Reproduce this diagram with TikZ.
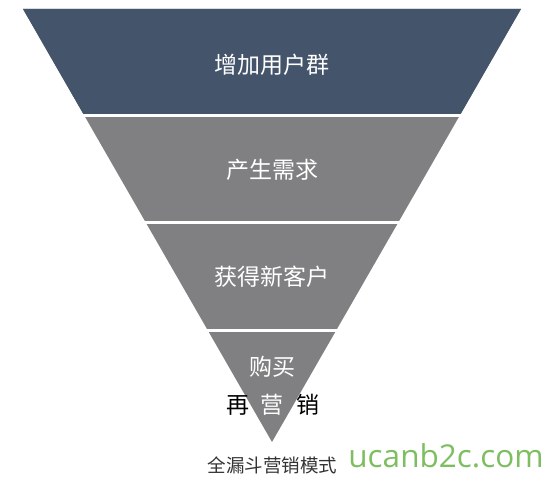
\documentclass[tikz,border=0pt]{standalone}
\usepackage{fontspec}
\newfontfamily\cjk{Noto Sans CJK SC}
\newfontfamily\webfont{Open Sans}
\usepackage{tikz}
\usetikzlibrary{calc}
\definecolor{funnelblue}{RGB}{68, 84, 106}
\definecolor{funnelgray}{RGB}{128, 127, 129}
\definecolor{captiongray}{RGB}{51, 51, 51}
\definecolor{markgreen}{RGB}{124, 190, 96}

\begin{document}
\begin{tikzpicture}[x=1pt, y=-1pt,
    gap/.style={white, line width=3pt, shorten <=-4pt, shorten >=-4pt},
    bandtext/.style={font=\cjk\fontsize{23}{23}\selectfont, text=white, inner sep=0pt},
    outtext/.style={font=\cjk\fontsize{23}{23}\selectfont, text=black, inner sep=0pt},
    caption/.style={font=\cjk\fontsize{18.5}{18.5}\selectfont, text=captiongray, inner sep=0pt},
    watermark/.style={font=\webfont\fontsize{31.5}{31.5}\selectfont, text=markgreen, inner sep=0pt}
  ]
    \useasboundingbox (0,0) rectangle (547,486);
    \coordinate (tl) at (23,9);
    \coordinate (tr) at (521,9);
    \coordinate (apex) at (272,442);
    % funnel bands
    \fill[funnelgray] (tl) -- (tr) -- (apex) -- cycle;
    \fill[funnelblue] (tl) -- (tr) -- ($(apex)!0.754!(tr)$) -- ($(apex)!0.754!(tl)$) -- cycle;
    \foreach \t in {0.754, 0.5058, 0.2575}{
      \draw[gap] ($(apex)!\t!(tl)$) -- ($(apex)!\t!(tr)$);
    }
    \node[bandtext] (b1) at (272, 65)  {增加用户群};
    \node[bandtext] (b2) at (272, 170) {产生需求};
    \node[bandtext] (b3) at (272, 277) {获得新客户};
    \node[bandtext] (b4) at (272, 367) {购买};
    \node[outtext]  (r1) at (237.5, 405) {再};
    \node[bandtext] (r2) at (272, 405)   {营};
    \node[outtext]  (r3) at (307.5, 405) {销};
    \node[caption] (cap) at (272.5, 465.5) {全漏斗营销模式};
    \node[watermark, anchor=base] (web) at (446, 468) {ucanb2c.com};
  \end{tikzpicture}
\end{document}
